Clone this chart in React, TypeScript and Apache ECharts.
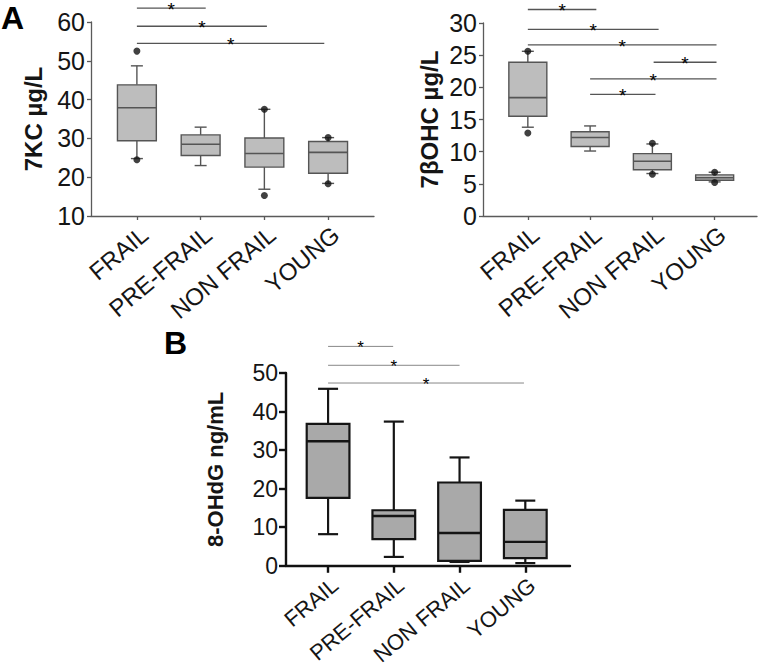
import React, { useEffect, useRef } from 'react';
import * as echarts from 'echarts';

const FONT = '"Liberation Sans", Arial, Helvetica, sans-serif';

const categories = ['FRAIL', 'PRE-FRAIL', 'NON FRAIL', 'YOUNG'];
const categoryPositions = [0, 1, 2, 3];

// [min whisker, Q1, median, Q3, max whisker]
const kcBoxes = [
  [24.8, 29.4, 37.9, 43.8, 48.7],
  [23.0, 25.6, 28.5, 30.9, 32.9],
  [16.9, 22.6, 26.1, 30.1, 37.5],
  [18.4, 21.0, 26.4, 29.2, 30.2],
];
const kcPoints = [
  [0, 52.5], [0, 24.5], [2, 37.5], [2, 15.3], [3, 30.2], [3, 18.3],
];
// [from, to, height]
const kcBrackets = [
  [0, 1.08, 63.6],
  [0, 2.04, 58.9],
  [0, 2.94, 54.5],
];

const obBoxes = [
  [13.8, 15.5, 18.4, 23.9, 25.6],
  [10.1, 10.8, 12.2, 13.1, 14.0],
  [6.6, 7.2, 8.5, 9.7, 11.2],
  [5.3, 5.55, 5.95, 6.4, 6.8],
];
const obPoints = [
  [0, 25.6], [0, 12.9], [2, 11.3], [2, 6.5], [3, 6.8], [3, 5.2],
];
const obBrackets = [
  [0, 1.1, 32.1],
  [0, 2.1, 29.0],
  [0, 3.03, 26.6],
  [2.02, 3.03, 23.9],
  [1, 3.03, 21.3],
  [1, 2.05, 18.9],
];

const ohBoxes = [
  [8.2, 17.6, 32.3, 36.8, 45.9],
  [2.3, 6.9, 12.9, 14.4, 37.4],
  [1.0, 1.3, 8.5, 21.6, 28.1],
  [0.7, 2.0, 6.2, 14.5, 16.9],
];
const ohBrackets = [
  [0, 0.99, 56.9],
  [0, 2.0, 52.0],
  [0, 2.98, 47.4],
];

type BoxStyle = {
  boxRatio: number;
  capHalf: number;
  fill: string;
  stroke: string;
  lineWidth: number;
  medianWidth: number;
};

function makeBoxRenderer(s: BoxStyle) {
  return (params: any, api: any) => {
    const x = api.value(0);
    const pMin = api.coord([x, api.value(1)]);
    const pQ1 = api.coord([x, api.value(2)]);
    const pMed = api.coord([x, api.value(3)]);
    const pQ3 = api.coord([x, api.value(4)]);
    const pMax = api.coord([x, api.value(5)]);
    const band = api.size([1, 0])[0];
    const half = (band * s.boxRatio) / 2;
    const cx = pMed[0];
    const ls = { stroke: s.stroke, lineWidth: s.lineWidth };
    return {
      type: 'group',
      children: [
        { type: 'line', shape: { x1: cx, y1: pMax[1], x2: cx, y2: pQ3[1] }, style: ls },
        { type: 'line', shape: { x1: cx, y1: pQ1[1], x2: cx, y2: pMin[1] }, style: ls },
        { type: 'line', shape: { x1: cx - s.capHalf, y1: pMax[1], x2: cx + s.capHalf, y2: pMax[1] }, style: ls },
        { type: 'line', shape: { x1: cx - s.capHalf, y1: pMin[1], x2: cx + s.capHalf, y2: pMin[1] }, style: ls },
        {
          type: 'rect',
          shape: { x: cx - half, y: pQ3[1], width: half * 2, height: pQ1[1] - pQ3[1] },
          style: { fill: s.fill, stroke: s.stroke, lineWidth: s.lineWidth },
        },
        {
          type: 'line',
          shape: { x1: cx - half, y1: pMed[1], x2: cx + half, y2: pMed[1] },
          style: { stroke: s.stroke, lineWidth: s.medianWidth },
        },
      ],
    };
  };
}

function makeBracketRenderer(color: string, width: number, starSize: number, starOffset: number) {
  return (params: any, api: any) => {
    const p1 = api.coord([api.value(0), api.value(2)]);
    const p2 = api.coord([api.value(1), api.value(2)]);
    return {
      type: 'group',
      children: [
        { type: 'line', shape: { x1: p1[0], y1: p1[1], x2: p2[0], y2: p2[1] }, style: { stroke: color, lineWidth: width } },
        {
          type: 'text',
          x: (p1[0] + p2[0]) / 2,
          y: p1[1] + starOffset,
          style: {
            text: '*',
            fontSize: starSize,
            fontFamily: FONT,
            lineHeight: 10,
            fill: '#000',
            align: 'center',
            verticalAlign: 'middle',
          },
        },
      ],
    };
  };
}

function xAxisFor(gridIndex: number, min: number, max: number, o: any) {
  return {
    gridIndex,
    type: 'value',
    min,
    max,
    splitLine: { show: false },
    axisLine: { show: true, onZero: false, lineStyle: { color: o.lineColor, width: o.lineWidth } },
    axisTick: { show: true, customValues: categoryPositions, length: o.tickLen, lineStyle: { color: o.lineColor, width: o.lineWidth } },
    axisLabel: {
      customValues: categoryPositions,
      formatter: (v: number) => categories[Math.round(v)] ?? '',
      rotate: 40,
      fontSize: o.xFontSize,
      fontFamily: FONT,
      color: '#151515',
      margin: o.xMargin,
      verticalAlign: 'top',
    },
  };
}

function yAxisFor(gridIndex: number, min: number, max: number, interval: number, name: string, o: any) {
  return {
    gridIndex,
    type: 'value',
    min,
    max,
    interval,
    splitLine: { show: false },
    axisLine: { show: true, onZero: false, lineStyle: { color: o.lineColor, width: o.lineWidth } },
    axisTick: { show: true, length: o.tickLen, lineStyle: { color: o.lineColor, width: o.lineWidth } },
    axisLabel: { fontSize: o.fontSize, fontFamily: FONT, color: '#151515', margin: o.margin },
    name,
    nameLocation: 'middle',
    nameGap: o.nameGap,
    nameTextStyle: { fontSize: o.nameSize, fontWeight: 'bold', fontFamily: FONT, color: '#151515' },
  };
}

export default function App() {
  const ref = useRef<HTMLDivElement>(null);
  useEffect(() => {
    if (!ref.current) return;
    const chart = echarts.init(ref.current, undefined, { renderer: 'svg' });
    const aStyle = { lineColor: '#5a5a5a', lineWidth: 1.3, tickLen: 4, fontSize: 25, margin: 6, nameGap: 46, nameSize: 24, xFontSize: 24, xMargin: 6 };
    const aStyleR = { ...aStyle, nameGap: 42 };
    const bStyle = { lineColor: '#111', lineWidth: 2.4, tickLen: 7, fontSize: 23, margin: 8, nameGap: 60, nameSize: 22, xFontSize: 22, xMargin: 8 };
    const boxA: BoxStyle = { boxRatio: 0.61, capHalf: 6, fill: '#bdbdbd', stroke: '#555', lineWidth: 1.4, medianWidth: 1.6 };
    const boxB: BoxStyle = { boxRatio: 0.65, capHalf: 10, fill: '#a9a9a9', stroke: '#151515', lineWidth: 2.2, medianWidth: 2.4 };

    chart.setOption({
      animation: false,
      backgroundColor: '#ffffff',
      textStyle: { fontFamily: FONT },
      grid: [
        { left: 91, top: 22, width: 283, height: 194 },
        { left: 483, top: 23, width: 274, height: 193 },
        { left: 286, top: 373, width: 284, height: 197 },
      ],
      xAxis: [
        xAxisFor(0, -0.72, 3.72, aStyle),
        xAxisFor(1, -0.72, 3.68, aStyle),
        xAxisFor(2, -0.64, 3.68, bStyle),
      ],
      yAxis: [
        yAxisFor(0, 10, 60, 10, '7KC µg/L', aStyle),
        yAxisFor(1, 0, 30, 5, '7βOHC µg/L', aStyleR),
        yAxisFor(2, 0, 50, 10, '8-OHdG ng/mL', bStyle),
      ],
      graphic: [
        { type: 'text', left: 1, top: 2, style: { text: 'A', font: `bold 32px ${FONT}`, fill: '#000' } },
        { type: 'text', left: 164, top: 327, style: { text: 'B', font: `bold 32px ${FONT}`, fill: '#000' } },
      ],
      series: [
        {
          type: 'custom', xAxisIndex: 0, yAxisIndex: 0,
          data: kcBoxes.map((b, i) => [categoryPositions[i], ...b]),
          encode: { x: 0, y: [1, 2, 3, 4, 5] },
          renderItem: makeBoxRenderer(boxA),
        },
        {
          type: 'scatter', xAxisIndex: 0, yAxisIndex: 0, data: kcPoints,
          symbolSize: 7, itemStyle: { color: '#111' }, z: 5,
        },
        {
          type: 'custom', xAxisIndex: 0, yAxisIndex: 0, data: kcBrackets,
          encode: { x: [0, 1], y: 2 }, clip: false,
          renderItem: makeBracketRenderer('#555', 1.3, 19, 1.5),
        },
        {
          type: 'custom', xAxisIndex: 1, yAxisIndex: 1,
          data: obBoxes.map((b, i) => [categoryPositions[i], ...b]),
          encode: { x: 0, y: [1, 2, 3, 4, 5] },
          renderItem: makeBoxRenderer(boxA),
        },
        {
          type: 'scatter', xAxisIndex: 1, yAxisIndex: 1, data: obPoints,
          symbolSize: 7, itemStyle: { color: '#111' }, z: 5,
        },
        {
          type: 'custom', xAxisIndex: 1, yAxisIndex: 1, data: obBrackets,
          encode: { x: [0, 1], y: 2 }, clip: false,
          renderItem: makeBracketRenderer('#555', 1.3, 19, 1.5),
        },
        {
          type: 'custom', xAxisIndex: 2, yAxisIndex: 2,
          data: ohBoxes.map((b, i) => [categoryPositions[i], ...b]),
          encode: { x: 0, y: [1, 2, 3, 4, 5] },
          renderItem: makeBoxRenderer(boxB),
        },
        {
          type: 'custom', xAxisIndex: 2, yAxisIndex: 2, data: ohBrackets,
          encode: { x: [0, 1], y: 2 }, clip: false,
          renderItem: makeBracketRenderer('#888', 1, 17, 1),
        },
      ],
    });
    return () => chart.dispose();
  }, []);
  return <div ref={ref} style={{ position: 'fixed', left: 0, top: 0, width: 760, height: 668, background: '#fff' }} />;
}
